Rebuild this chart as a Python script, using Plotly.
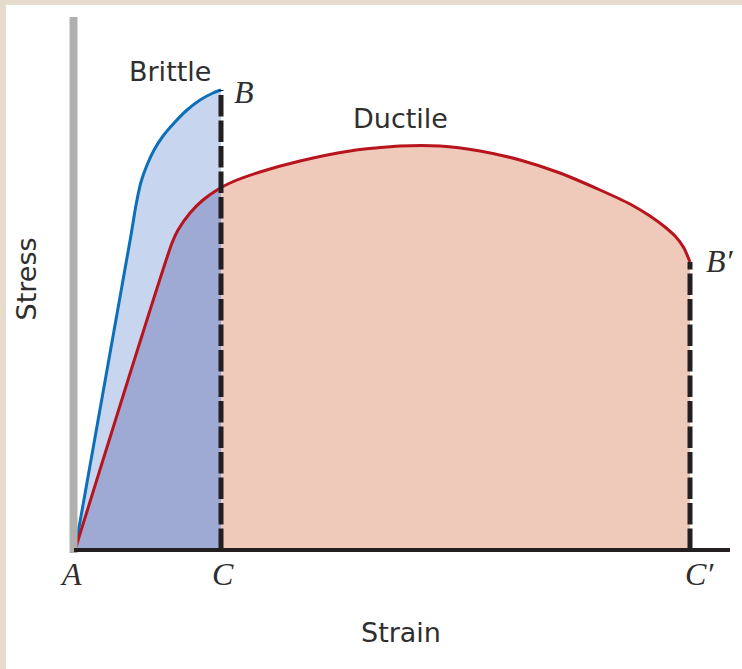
import numpy as np
import plotly.graph_objects as go

# Stress-strain curves (arbitrary units)
brittle_strain = [0.0, 0.911, 0.992, 1.073, 1.171, 1.285, 1.431, 1.626, 1.821, 2.033, 2.244, 2.374]
brittle_stress = [0.0, 6.30, 6.90, 7.36, 7.70, 8.00, 8.28, 8.56, 8.80, 9.00, 9.14, 9.20]

ductile_strain = [0.0, 1.577, 1.675, 1.870, 2.081, 2.309, 2.520, 3.008, 3.659, 4.472, 5.285,
                  5.935, 6.585, 7.236, 7.886, 8.537, 9.024, 9.350, 9.593, 9.772, 9.902, 10.0]
ductile_stress = [0.0, 6.14, 6.40, 6.74, 7.00, 7.20, 7.34, 7.56, 7.78, 7.98, 8.08,
                  8.08, 7.98, 7.80, 7.54, 7.20, 6.92, 6.68, 6.46, 6.26, 6.04, 5.76]

point_labels = ["A", "C", "C′", "B", "B′"]

bs = np.array(brittle_strain)
bt = np.array(brittle_stress)
ds = np.array(ductile_strain)
dt = np.array(ductile_stress)

strain_c = bs[-1]
strain_cp = ds[-1]
stress_at_c = float(np.interp(strain_c, ds, dt))

# split the ductile curve at the brittle fracture strain
left = ds < strain_c
d_left_x = np.concatenate([ds[left], [strain_c]])
d_left_y = np.concatenate([dt[left], [stress_at_c]])
d_right_x = np.concatenate([[strain_c], ds[~left]])
d_right_y = np.concatenate([[stress_at_c], dt[~left]])

BLUE = "#0b6fba"
RED = "#b8141e"
LIGHT_BLUE = "#c8d5ee"
OVERLAP = "#9eaad3"
PINK = "#efcabb"
INK = "#231f20"
LABEL = "#2e2e2e"

SMOOTH = 0.6

fig = go.Figure()

# toughness areas
fig.add_trace(go.Scatter(x=d_right_x, y=d_right_y, fill="tozeroy", fillcolor=PINK,
                         mode="lines", line=dict(width=0, shape="spline", smoothing=SMOOTH),
                         hoverinfo="skip"))
fig.add_trace(go.Scatter(x=bs, y=bt, fill="tozeroy", fillcolor=LIGHT_BLUE,
                         mode="lines", line=dict(width=0, shape="spline", smoothing=SMOOTH),
                         hoverinfo="skip"))
fig.add_trace(go.Scatter(x=d_left_x, y=d_left_y, fill="tozeroy", fillcolor=OVERLAP,
                         mode="lines", line=dict(width=0, shape="spline", smoothing=SMOOTH),
                         hoverinfo="skip"))

# curves
fig.add_trace(go.Scatter(x=bs, y=bt, mode="lines",
                         line=dict(color=BLUE, width=3, shape="spline", smoothing=SMOOTH),
                         hoverinfo="skip"))
fig.add_trace(go.Scatter(x=ds, y=dt, mode="lines",
                         line=dict(color=RED, width=3, shape="spline", smoothing=SMOOTH),
                         hoverinfo="skip"))

# fracture drop lines
fig.add_trace(go.Scatter(x=[strain_c, strain_c], y=[0, bt[-1]], mode="lines",
                         line=dict(color=INK, width=5, dash="21.5px,4px"), hoverinfo="skip"))
fig.add_trace(go.Scatter(x=[strain_cp, strain_cp], y=[0, dt[-1]], mode="lines",
                         line=dict(color=INK, width=5, dash="21.5px,4px"), hoverinfo="skip"))

# axes
fig.add_shape(type="line", x0=-0.024, x1=-0.024, y0=-0.06, y1=10.66,
              line=dict(color="#b0b0b0", width=8), layer="above")
fig.add_shape(type="line", x0=-0.016, x1=10.65, y0=0, y1=0,
              line=dict(color=INK, width=4), layer="above")

# beige frame strips
fig.add_shape(type="rect", xref="paper", yref="paper", x0=0, x1=6 / 742, y0=0, y1=1,
              fillcolor="#e5dccd", line=dict(width=0), layer="above")
fig.add_shape(type="rect", xref="paper", yref="paper", x0=0, x1=1, y0=1 - 5 / 669, y1=1,
              fillcolor="#e5dccd", line=dict(width=0), layer="above")

sans = dict(family="DejaVu Sans", size=27, color=LABEL)
serif = dict(family="Liberation Serif", size=32, color=LABEL)

def label(x, y, text, font, **kw):
    fig.add_annotation(x=x, y=y, text=text, showarrow=False, font=font,
                       xanchor="center", yanchor="middle", **kw)

label(1.545, 9.58, "Brittle", sans)
label(5.30, 8.64, "Ductile", sans)
label(5.30, -1.65, "Strain", sans)
label(-0.79, 5.42, "Stress", sans, textangle=-90)

label(-0.06, -0.48, "<i>" + point_labels[0] + "</i>", serif)
label(strain_c + 0.04, -0.48, "<i>" + point_labels[1] + "</i>", serif)
label(strain_cp + 0.16, -0.48, "<i>" + point_labels[2] + "</i>", serif)
label(strain_c + 0.38, 9.16, "<i>" + point_labels[3] + "</i>", serif)
label(strain_cp + 0.49, 5.78, "<i>" + point_labels[4] + "</i>", serif)

fig.update_layout(
    width=742, height=669,
    margin=dict(l=0, r=0, t=0, b=0),
    paper_bgcolor="white", plot_bgcolor="white",
    showlegend=False,
    xaxis=dict(range=[-75 / 61.5, 667 / 61.5], visible=False, fixedrange=True),
    yaxis=dict(range=[-2.38, 11.0], visible=False, fixedrange=True),
)

fig.write_html("out.html")
